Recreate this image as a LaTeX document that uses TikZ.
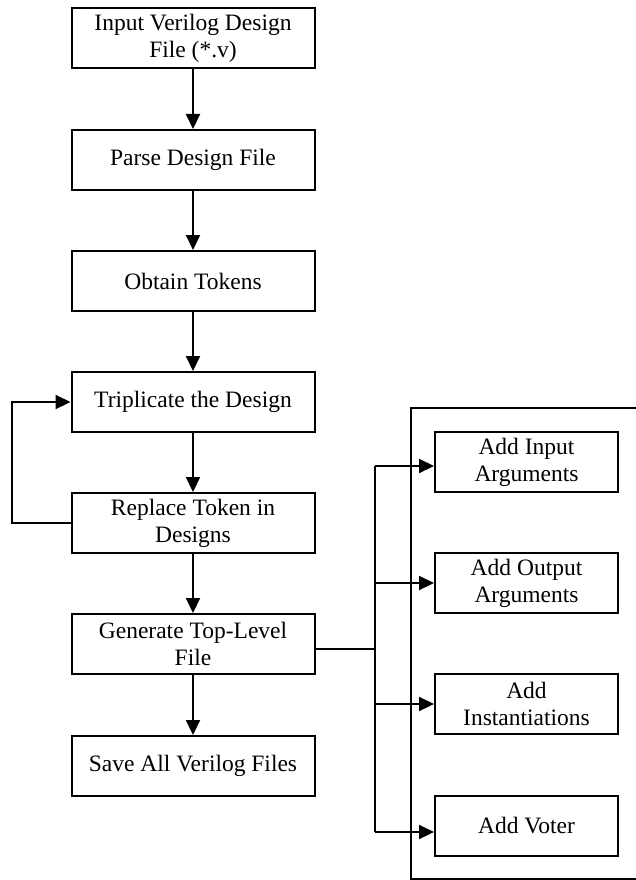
\documentclass[tikz,border=0pt]{standalone}
\usepackage{fontspec}
\setmainfont{Liberation Serif}
\usetikzlibrary{arrows.meta}
\begin{document}
\begin{tikzpicture}[x=1pt,y=-1pt,
  stepbox/.style={draw, line width=2pt, minimum width=243pt, minimum height=60pt, inner sep=2pt, align=center, font=\fontsize{23.5}{27}\selectfont},
  subbox/.style={draw, line width=2pt, minimum width=183pt, minimum height=60pt, inner sep=2pt, align=center, font=\fontsize{23.5}{27}\selectfont},
  arr/.style={line width=2.1pt, -{Triangle[length=15pt,width=14pt]}},
  ln/.style={line width=2.1pt}]
\useasboundingbox (0,0) rectangle (636,880);
\node[stepbox] (n1) at (193,38) {Input Verilog Design\\File (*.v)};
\node[stepbox] (n2) at (193,160) {Parse Design File};
\node[stepbox] (n3) at (193,281) {Obtain Tokens};
\node[stepbox] (n4) at (193,402) {Triplicate the Design};
\node[stepbox] (n5) at (193,523) {Replace Token in\\Designs};
\node[stepbox] (n6) at (193,644) {Generate Top-Level\\File};
\node[stepbox] (n7) at (193,766) {Save All Verilog Files};
\node[subbox] (a) at (526.5,462) {Add Input\\Arguments};
\node[subbox] (b) at (526.5,583) {Add Output\\Arguments};
\node[subbox] (c) at (526.5,704) {Add\\Instantiations};
\node[subbox] (d) at (526.5,826) {Add Voter};
\draw[arr] (n1) -- (n2);
\draw[arr] (n2) -- (n3);
\draw[arr] (n3) -- (n4);
\draw[arr] (n4) -- (n5);
\draw[arr] (n6) -- (n7);
\draw[arr] (n5.west) -- (12,523) -- (12,402) -- (n4.west);
\draw[arr] (n5) -- (n6);
\coordinate (bt) at (375,466);
\coordinate (bb) at (375,832);
\coordinate (bm) at (375,649);
\draw[ln] (n6.east |- bm) -- (bm);
\draw[ln] (bt) -- (bb);
\draw[arr] (bt) -- (a.west |- bt);
\draw[arr] (375,583) -- (b.west);
\draw[arr] (375,704) -- (c.west);
\draw[arr] (bb) -- (d.west |- bb);
\draw[line width=1.6pt] (640,408) -- (411,408) -- (411,879) -- (640,879);
\end{tikzpicture}
\end{document}
